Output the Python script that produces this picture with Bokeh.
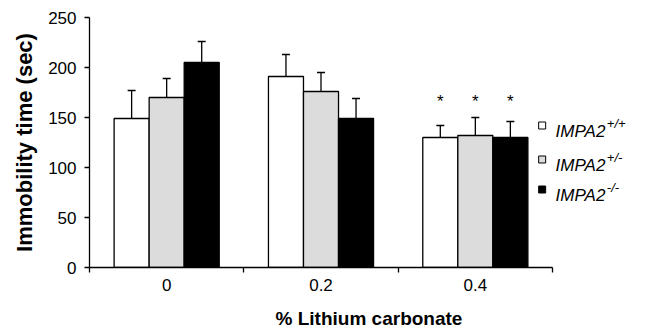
import numpy as np
from bokeh.plotting import figure
from bokeh.models import (Range1d, FixedTicker, Whisker, TeeHead, ColumnDataSource)
from bokeh.embed import file_html
from bokeh.resources import INLINE
from bokeh.core.properties import value

# ---- data ----
doses = ["0", "0.2", "0.4"]
genotypes = ["+/+", "+/-", "-/-"]
wt_mean = [149, 191, 130]
wt_err = [28, 22, 12]
het_mean = [170, 176, 132]
het_err = [19, 19, 18]
ko_mean = [205, 149, 130]
ko_err = [21, 20, 16]
significant = [False, False, True]
colors = ["#ffffff", "#dcdcdc", "#000000"]
y_ticks = [0, 50, 100, 150, 200, 250]

FONT = "Liberation Sans"

p = figure(width=648, height=336, x_range=Range1d(0, 3.622), y_range=Range1d(0, 250),
           output_backend="svg", toolbar_location=None,
           min_border_left=89, min_border_right=0, min_border_top=17, min_border_bottom=69)
p.outline_line_color = None
p.grid.grid_line_color = None
p.background_fill_color = "white"

bw = 0.227
offsets = [-bw, 0.0, bw]
means = [wt_mean, het_mean, ko_mean]
errs = [wt_err, het_err, ko_err]
centers = np.arange(len(doses)) + 0.5

for i in range(3):
    xs = centers + offsets[i]
    m = np.array(means[i], dtype=float)
    e = np.array(errs[i], dtype=float)
    src = ColumnDataSource(dict(x=xs, top=m, upper=m + e))
    p.vbar(x="x", top="top", width=bw, source=src, fill_color=colors[i],
           line_color="black", line_width=1.3)
    w = Whisker(base="x", lower="top", upper="upper", source=src,
                upper_head=TeeHead(size=8, line_width=1.3, line_color="black"),
                lower_head=None, line_width=1.3, line_color="black")
    p.add_layout(w)

# significance asterisks
sx, sy, st = [], [], []
for g, sig in enumerate(significant):
    if sig:
        for i in range(3):
            sx.append(centers[g] + offsets[i])
            sy.append(166)
            st.append("*")
p.text(x=sx, y=sy, text=st, text_align="center", text_baseline="alphabetic",
       text_font=value(FONT), text_font_size="17px", text_color="black")

# axes
xa = p.xaxis[0]
xa.bounds = (0, 3)
xa.ticker = FixedTicker(ticks=list(centers), minor_ticks=[0, 1, 2, 3])
xa.major_label_overrides = {float(c): d for c, d in zip(centers, doses)}
xa.major_tick_line_color = None
xa.major_tick_out = 5
xa.minor_tick_out = 5
xa.minor_tick_in = 0
xa.minor_tick_line_color = "black"
xa.minor_tick_line_width = 1.3
xa.major_label_standoff = 6
xa.axis_label = "% Lithium carbonate"
xa.axis_label_text_font = FONT
xa.axis_label_text_font_style = "bold"
xa.axis_label_text_font_size = "19px"
xa.axis_label_standoff = 14

ya = p.yaxis[0]
ya.ticker = FixedTicker(ticks=y_ticks)
ya.minor_tick_line_color = None
ya.major_tick_out = 5
ya.major_tick_in = 0
ya.major_label_standoff = 8
ya.axis_label = "Immobility time (sec)"
ya.axis_label_text_font = FONT
ya.axis_label_text_font_style = "bold"
ya.axis_label_text_font_size = "22px"
ya.axis_label_standoff = 8

for ax in (xa, ya):
    ax.axis_line_color = "black"
    ax.axis_line_width = 1.3
    ax.major_tick_line_width = 1.3
    ax.major_label_text_font = FONT
    ax.major_label_text_font_size = "17px"
    ax.major_label_text_color = "black"
    ax.axis_label_text_color = "black"

# legend (drawn manually for superscripts)
leg_y = [142, 108, 78]
p.scatter(x=[2.933] * 3, y=leg_y, marker="square", size=7,
          fill_color=colors, line_color="black", line_width=1)
p.text(x=[3.02] * 3, y=[v - 6 for v in leg_y], text=["IMPA2"] * 3,
       text_font=value(FONT), text_font_style="italic", text_font_size="17px",
       text_baseline="alphabetic", text_color="black")
p.text(x=[3.352] * 3, y=[v + 2 for v in leg_y], text=genotypes,
       text_font=value(FONT), text_font_style="italic", text_font_size="13px",
       text_baseline="alphabetic", text_color="black")

open("out.html", "w").write(file_html(p, INLINE))
